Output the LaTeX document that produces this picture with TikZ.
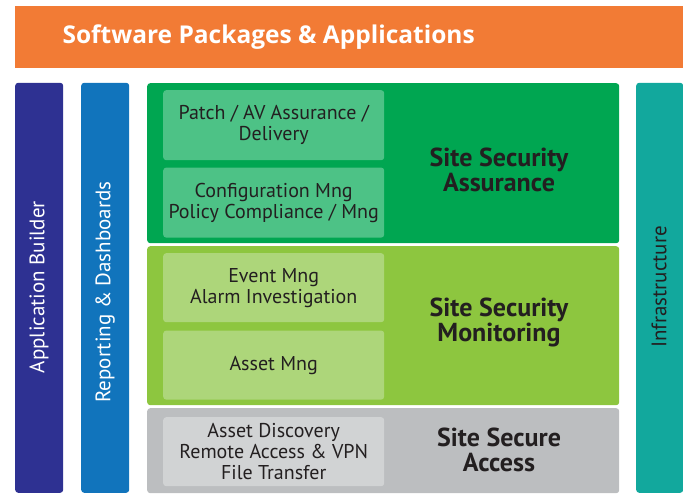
\documentclass[tikz,border=0pt]{standalone}
\usepackage{fontspec}
\setmainfont{Open Sans}
\newfontfamily\boxfont{PT Sans}
\usetikzlibrary{positioning}
\definecolor{swOrange}{HTML}{F27B35}
\definecolor{appNavy}{HTML}{2E3192}
\definecolor{repBlue}{HTML}{1174BC}
\definecolor{assGreen}{HTML}{00A651}
\definecolor{assItem}{HTML}{4DC286}
\definecolor{monLime}{HTML}{8DC63F}
\definecolor{monItem}{HTML}{ADD67A}
\definecolor{accGrey}{HTML}{BCBEC0}
\definecolor{accItem}{HTML}{D1D3D4}
\definecolor{infTeal}{HTML}{12A89D}
\definecolor{darkText}{HTML}{231F20}

\begin{document}
\begin{tikzpicture}[x=1pt, y=1pt, node distance = 7pt,
    bar/.style = {rounded corners=3pt, minimum width=48pt, minimum height=410pt, inner sep=0pt, anchor=south west},
    barlabel/.style = {rotate=90, text=white, font=\boxfont\fontsize{21}{24}\selectfont},
    layer/.style = {rounded corners=3pt, minimum width=472pt, inner sep=0pt, anchor=north west},
    item/.style = {rounded corners=3pt, minimum width=221pt, minimum height=69pt, inner sep=0pt, align=center,
                   text=darkText, font=\boxfont\fontsize{20}{21}\selectfont},
    layerlabel/.style = {align=center, text=darkText, font=\boxfont\bfseries\fontsize{26}{25}\selectfont}]
  \useasboundingbox (0,0) rectangle (683,494);

  % top bar
  \node[fill=swOrange, minimum width=668pt, minimum height=62pt, inner sep=0pt, anchor=south west] (sw) at (15,426) {};
  \node[text=white, anchor=west, font=\bfseries\fontsize{24.5}{28}\selectfont] (swtext) at (59,457) {Software Packages \& Applications};

  % side bars
  \node[bar, fill=appNavy] (app) at (15,1) {};
  \node[bar, fill=repBlue] (rep) at (81,1) {};
  \node[bar, fill=infTeal, minimum width=47pt] (inf) at (636,1) {};
  \node[barlabel] (apptext) at (39,207) {Application Builder};
  \node[barlabel] (reptext) at (105,202) {Reporting \& Dashboards};
  \node[barlabel, text=darkText] (inftext) at (659,207) {Infrastructure};

  % layers
  \node[layer, fill=assGreen, minimum height=160pt] (ass) at (147,411) {};
  \node[layer, fill=monLime, minimum height=159pt] (mon) at (147,248) {};
  \node[layer, fill=accGrey, minimum height=85pt] (acc) at (147,86) {};

  \node[item, fill=assItem, minimum height=70pt, anchor=north west] (patch) at (163,404) {Patch / AV Assurance /\\Delivery};
  \node[item, fill=assItem, minimum height=70pt] (config) [below=of patch] {Configuration Mng\\Policy Compliance / Mng};
  \node[item, fill=monItem, anchor=north west] (event) at (163,241) {Event Mng\\Alarm Investigation};
  \node[item, fill=monItem] (asset) [below=8pt of event] {Asset Mng};
  \node[item, fill=accItem, anchor=north west] (disc) at (163,77) {Asset Discovery\\Remote Access \& VPN\\File Transfer};

  \node[layerlabel] (asstext) at (499,324) {Site Security\\Assurance};
  \node[layerlabel] (montext) at (499,172) {Site Security\\Monitoring};
  \node[layerlabel] (acctext) at (499,44) {Site Secure\\Access};
\end{tikzpicture}
\end{document}
